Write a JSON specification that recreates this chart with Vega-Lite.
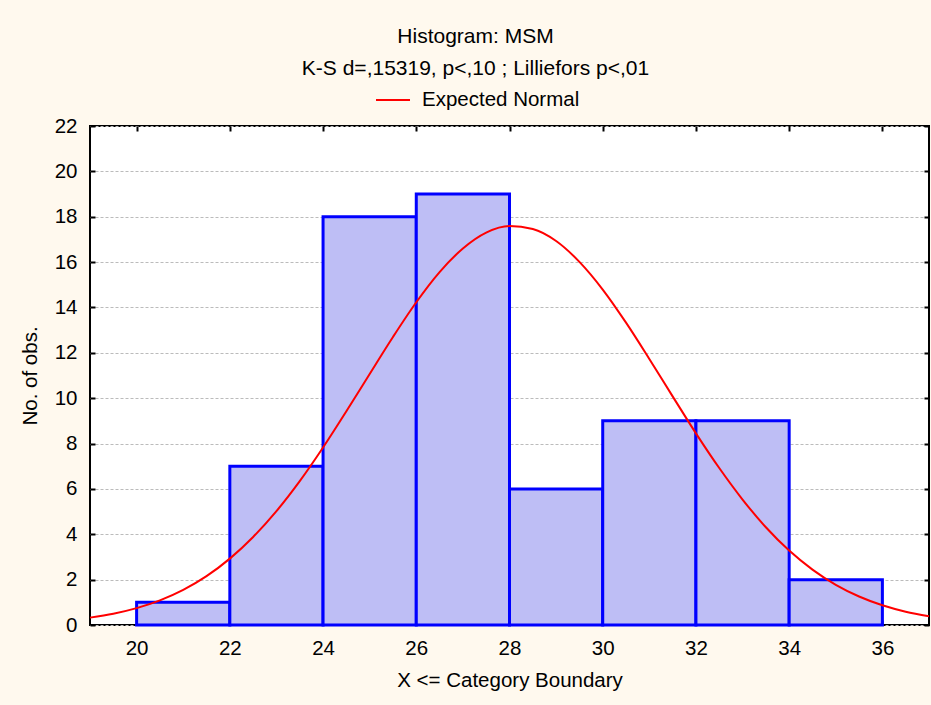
{
  "$schema": "https://vega.github.io/schema/vega-lite/v6.json",
  "width": 839,
  "height": 499,
  "autosize": "none",
  "padding": {"left": 90, "top": 126, "right": 2, "bottom": 80},
  "background": "#FFF9EE",
  "config": {
    "font": "Liberation Sans",
    "view": {"fill": "white", "stroke": "black", "strokeWidth": 2},
    "axis": {
      "domain": false,
      "labelFont": "Liberation Sans",
      "labelFontSize": 20.5,
      "labelColor": "black",
      "titleFont": "Liberation Sans",
      "titleFontSize": 20.5,
      "titleFontWeight": "normal",
      "titleColor": "black",
      "tickColor": "black",
      "tickWidth": 2,
      "tickSize": -5
    }
  },
  "title": {
    "text": "Histogram: MSM",
    "subtitle": "K-S d=,15319, p<,10 ; Lilliefors p<,01",
    "anchor": "middle",
    "frame": "group",
    "dx": -34,
    "font": "Liberation Sans",
    "subtitleFont": "Liberation Sans",
    "fontSize": 21,
    "subtitleFontSize": 21,
    "fontWeight": "normal",
    "color": "black",
    "subtitleColor": "black",
    "subtitlePadding": 11,
    "offset": 3
  },
  "datasets": {
    "bins": [
      {"lo": 20, "hi": 22, "count": 1},
      {"lo": 22, "hi": 24, "count": 7},
      {"lo": 24, "hi": 26, "count": 18},
      {"lo": 26, "hi": 28, "count": 19},
      {"lo": 28, "hi": 30, "count": 6},
      {"lo": 30, "hi": 32, "count": 9},
      {"lo": 32, "hi": 34, "count": 9},
      {"lo": 34, "hi": 36, "count": 2}
    ],
    "curve": [
      {"x": 19, "y": 0.325, "series": "Expected Normal"},
      {"x": 19.5, "y": 0.497, "series": "Expected Normal"},
      {"x": 20, "y": 0.744, "series": "Expected Normal"},
      {"x": 20.5, "y": 1.086, "series": "Expected Normal"},
      {"x": 21, "y": 1.549, "series": "Expected Normal"},
      {"x": 21.5, "y": 2.154, "series": "Expected Normal"},
      {"x": 22, "y": 2.927, "series": "Expected Normal"},
      {"x": 22.5, "y": 3.879, "series": "Expected Normal"},
      {"x": 23, "y": 5.021, "series": "Expected Normal"},
      {"x": 23.5, "y": 6.343, "series": "Expected Normal"},
      {"x": 24, "y": 7.825, "series": "Expected Normal"},
      {"x": 24.5, "y": 9.421, "series": "Expected Normal"},
      {"x": 25, "y": 11.07, "series": "Expected Normal"},
      {"x": 25.5, "y": 12.70, "series": "Expected Normal"},
      {"x": 26, "y": 14.23, "series": "Expected Normal"},
      {"x": 26.5, "y": 15.56, "series": "Expected Normal"},
      {"x": 27, "y": 16.60, "series": "Expected Normal"},
      {"x": 27.5, "y": 17.30, "series": "Expected Normal"},
      {"x": 28, "y": 17.59, "series": "Expected Normal"},
      {"x": 28.5, "y": 17.46, "series": "Expected Normal"},
      {"x": 29, "y": 16.93, "series": "Expected Normal"},
      {"x": 29.5, "y": 16.01, "series": "Expected Normal"},
      {"x": 30, "y": 14.79, "series": "Expected Normal"},
      {"x": 30.5, "y": 13.33, "series": "Expected Normal"},
      {"x": 31, "y": 11.73, "series": "Expected Normal"},
      {"x": 31.5, "y": 10.08, "series": "Expected Normal"},
      {"x": 32, "y": 8.45, "series": "Expected Normal"},
      {"x": 32.5, "y": 6.92, "series": "Expected Normal"},
      {"x": 33, "y": 5.53, "series": "Expected Normal"},
      {"x": 33.5, "y": 4.31, "series": "Expected Normal"},
      {"x": 34, "y": 3.28, "series": "Expected Normal"},
      {"x": 34.5, "y": 2.44, "series": "Expected Normal"},
      {"x": 35, "y": 1.77, "series": "Expected Normal"},
      {"x": 35.5, "y": 1.255, "series": "Expected Normal"},
      {"x": 36, "y": 0.868, "series": "Expected Normal"},
      {"x": 36.5, "y": 0.586, "series": "Expected Normal"},
      {"x": 37, "y": 0.386, "series": "Expected Normal"}
    ]
  },
  "resolve": {"axis": {"x": "independent", "y": "independent"}},
  "layer": [
    {
      "data": {"name": "bins"},
      "mark": {"type": "rect", "fill": "#BEBEF5", "stroke": "#0000FF", "strokeWidth": 3},
      "encoding": {
        "x": {
          "field": "lo", "type": "quantitative",
          "scale": {"domain": [19, 37], "nice": false, "zero": false},
          "axis": {
            "orient": "bottom",
            "title": "X <= Category Boundary",
            "values": [20, 22, 24, 26, 28, 30, 32, 34, 36],
            "grid": false,
            "labelPadding": 18,
            "titlePadding": 12
          }
        },
        "x2": {"field": "hi"},
        "y": {
          "field": "count", "type": "quantitative",
          "scale": {"domain": [0, 22], "nice": false},
          "axis": {
            "orient": "left",
            "title": "No. of obs.",
            "values": [0, 2, 4, 6, 8, 10, 12, 14, 16, 18, 20, 22],
            "grid": true,
            "gridColor": "#BBBBBB",
            "gridDash": [3, 2],
            "gridWidth": 1,
            "labelPadding": 18,
            "titlePadding": 14
          }
        },
        "y2": {"datum": 0}
      }
    },
    {
      "data": {"name": "curve"},
      "mark": {"type": "line", "strokeWidth": 2, "interpolate": "monotone"},
      "encoding": {
        "x": {
          "field": "x", "type": "quantitative",
          "axis": {"orient": "top", "title": null, "labels": false, "grid": false, "values": [20, 22, 24, 26, 28, 30, 32, 34, 36]}
        },
        "y": {
          "field": "y", "type": "quantitative",
          "axis": {"orient": "right", "title": null, "labels": false, "grid": false, "values": [0, 2, 4, 6, 8, 10, 12, 14, 16, 18, 20, 22]}
        },
        "stroke": {
          "field": "series", "type": "nominal",
          "scale": {"domain": ["Expected Normal"], "range": ["#FF0000"]},
          "legend": {
            "title": null,
            "orient": "none",
            "legendX": 285,
            "legendY": -44,
            "padding": 0,
            "symbolType": "stroke",
            "symbolSize": 1156,
            "symbolStrokeWidth": 2,
            "symbolStrokeColor": "#FF0000",
            "labelFont": "Liberation Sans",
            "labelFontSize": 20.5,
            "labelColor": "black",
            "labelOffset": 11
          }
        }
      }
    }
  ]
}
